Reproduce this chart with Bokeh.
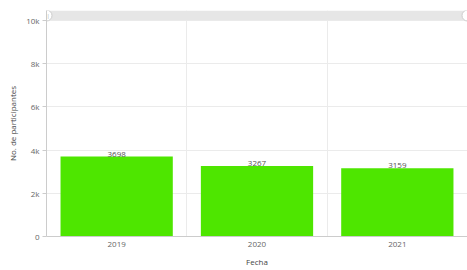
from bokeh.plotting import figure
from bokeh.models import ColumnDataSource, FixedTicker, BoxAnnotation, Range1d
from bokeh.transform import dodge
from bokeh.core.properties import value
from bokeh.embed import file_html
from bokeh.resources import INLINE

years = ["2019", "2020", "2021"]
participants = [3698, 3267, 3159]
y_ticks = [0, 2000, 4000, 6000, 8000, 10000]
y_tick_labels = ["0", "2k", "4k", "6k", "8k", "10k"]

FONT = "Open Sans"
GREEN = "#4ee600"

src = ColumnDataSource(dict(x=years, y=participants, lbl=[str(v) for v in participants]))

p = figure(x_range=years, y_range=Range1d(0, 10463), width=467, height=270,
           output_backend="svg", toolbar_location=None,
           min_border_left=46, min_border_right=0, min_border_top=10, min_border_bottom=34)
p.outline_line_color = None
p.background_fill_color = "white"

p.vbar(x="x", top="y", width=0.8, source=src, fill_color=GREEN, line_color=None)
p.text(x="x", y="y", text="lbl", source=src, text_align="center", text_baseline="bottom",
       y_offset=0, text_font=value(FONT), text_font_size="8px", text_color="#555555")

# top band (scroll bar look)
p.add_layout(BoxAnnotation(bottom=10010, fill_color="#e6e6e6", fill_alpha=1, line_color=None, level="underlay"))
left_h = ColumnDataSource(dict(x=["2019"], y=[10230], t=["||"]))
right_h = ColumnDataSource(dict(x=["2021"], y=[10230]))
p.scatter(x=dodge("x", -0.5, range=p.x_range), y="y", source=left_h,
          size=11, fill_color="white", line_color="#cccccc", line_width=1)
p.text(x=dodge("x", -0.5, range=p.x_range), y="y", text="t", source=left_h,
       text_align="center", text_baseline="middle", text_font=value(FONT),
       text_font_size="6px", text_color="#aaaaaa")
p.scatter(x=dodge("x", 0.5, range=p.x_range), y="y", source=right_h,
          size=11, fill_color="white", line_color="#cccccc", line_width=1)

# y axis
p.yaxis.ticker = FixedTicker(ticks=y_ticks)
p.yaxis.major_label_overrides = {t: l for t, l in zip(y_ticks, y_tick_labels)}
p.yaxis.axis_label = "No. de participantes"
p.yaxis.axis_line_color = "#cccccc"
p.yaxis.major_tick_line_color = "#cccccc"
p.yaxis.major_tick_out = 4
p.yaxis.major_tick_in = 0
p.yaxis.minor_tick_line_color = None
p.yaxis.major_label_standoff = 3
p.yaxis.axis_label_standoff = 5

# x axis
p.xaxis.axis_label = "Fecha"
p.xaxis.axis_line_color = "#cccccc"
p.xaxis.major_tick_line_color = None
p.xaxis.major_tick_out = 0
p.xaxis.major_tick_in = 0
p.xaxis.major_label_standoff = 5
p.xaxis.axis_label_standoff = 6

for ax in (p.xaxis, p.yaxis):
    ax.major_label_text_font = FONT
    ax.major_label_text_font_size = "8px"
    ax.major_label_text_color = "#666666"
    ax.axis_label_text_font = FONT
    ax.axis_label_text_font_size = "8px"
    ax.axis_label_text_font_style = "normal"
    ax.axis_label_text_color = "#444444"

p.ygrid.ticker = FixedTicker(ticks=y_ticks)
p.ygrid.grid_line_color = "#ebebeb"
p.xgrid.ticker = FixedTicker(ticks=[1.0, 2.0])
p.xgrid.grid_line_color = "#ebebeb"

open("out.html", "w").write(file_html(p, INLINE))
